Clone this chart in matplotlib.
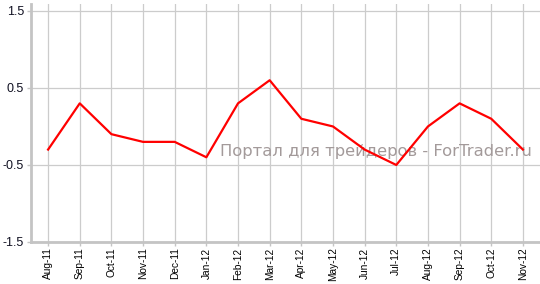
import matplotlib
matplotlib.use("Agg")
import matplotlib.pyplot as plt

# ==========================================================
# DATOS
# ==========================================================

meses = [
    "Aug-11", "Sep-11", "Oct-11", "Nov-11", "Dec-11", "Jan-12",
    "Feb-12", "Mar-12", "Apr-12", "May-12", "Jun-12", "Jul-12",
    "Aug-12", "Sep-12", "Oct-12", "Nov-12",
]
valores = [-0.3, 0.3, -0.1, -0.2, -0.2, -0.4, 0.3, 0.6, 0.1, 0.0, -0.3, -0.5, 0.0, 0.3, 0.1, -0.3]
yticks = [-1.5, -0.5, 0.5, 1.5]
ytick_labels = ["-1.5", "-0.5", "0.5", "1.5"]

# ==========================================================
# GRÁFICO
# ==========================================================

fig = plt.figure(figsize=(5.4, 2.84), dpi=100)
ax = fig.add_axes([31 / 540, 1 - 242 / 284, 1 - 31 / 540, (242 - 4) / 284])

x = list(range(len(meses)))

ax.text(
    0.985, 0.38,
    "Портал для трейдеров - ForTrader.ru",
    transform=ax.transAxes,
    ha="right", va="center",
    fontsize=11.75, color="#a39a9a",
    zorder=2,
)

ax.plot(x, valores, color="#ff0000", linewidth=1.6, zorder=3)

ax.set_xlim(-0.54, 15.54)
ax.set_ylim(-1.5, 1.59)

ax.set_xticks(x)
ax.set_xticklabels(meses, rotation=90, fontsize=7.3, family="Liberation Sans")
ax.set_yticks(yticks)
ax.set_yticklabels(ytick_labels, fontsize=9, family="Liberation Sans", color="#111122")

ax.grid(True, color="#cccccc", linewidth=0.9, zorder=0)
ax.set_axisbelow(True)

for lado in ["top", "right"]:
    ax.spines[lado].set_visible(False)
for lado in ["left", "bottom"]:
    ax.spines[lado].set_color("#c4c4c4")
    ax.spines[lado].set_linewidth(2)

ax.tick_params(axis="both", color="#c4c4c4", length=3, width=1, pad=2)
ax.tick_params(axis="x", pad=1)

fig.savefig("out.png", dpi=100)
plt.close(fig)
